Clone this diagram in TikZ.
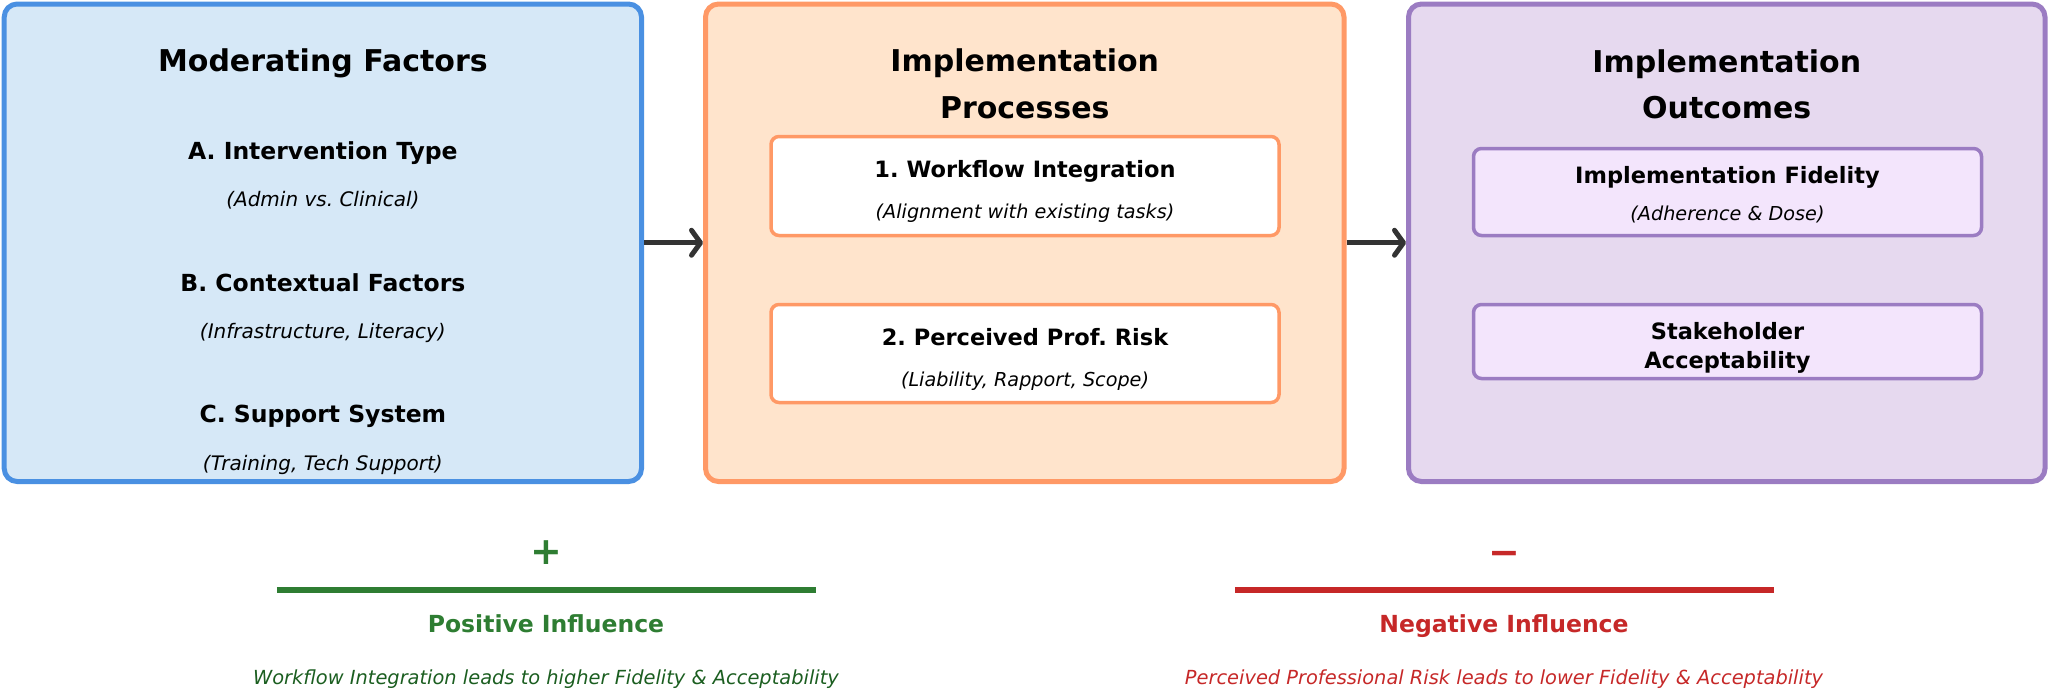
\documentclass[tikz,border=0pt]{standalone}
\usepackage{fontspec}
\setmainfont{DejaVu Sans}
\usetikzlibrary{arrows.meta}
\definecolor{blueE}{HTML}{4A90E2}
\definecolor{blueF}{HTML}{D6E8F7}
\definecolor{orangeE}{HTML}{FF9966}
\definecolor{orangeF}{HTML}{FFE4CC}
\definecolor{purpleE}{HTML}{9B7CC2}
\definecolor{purpleF}{HTML}{E6D9EF}
\definecolor{purpleI}{HTML}{F3E5FC}
\definecolor{arrowC}{HTML}{333333}
\definecolor{posC}{HTML}{2E7D32}
\definecolor{posT}{HTML}{1B5E20}
\definecolor{negC}{HTML}{C62828}
\definecolor{negT}{HTML}{C62828}
\frenchspacing
\begin{document}
\begin{tikzpicture}[x=1pt,y=-1pt,
  bigbox/.style={draw, line width=5pt, rounded corners=13pt, inner sep=0pt, minimum height=477.5pt},
  innerbox/.style={draw, line width=3.5pt, rounded corners=8pt, inner sep=0pt},
  title/.style={anchor=base, inner sep=0pt, align=center, font=\fontsize{30}{46.6}\selectfont\bfseries\frenchspacing},
  head/.style={anchor=base, inner sep=0pt, font=\fontsize{23.5}{28}\selectfont\bfseries\frenchspacing},
  ihead/.style={anchor=base, inner sep=0pt, align=center, font=\fontsize{22.5}{29}\selectfont\bfseries\frenchspacing},
  sub/.style={anchor=base, inner sep=0pt, font=\fontsize{20}{24}\selectfont\itshape\frenchspacing},
  isub/.style={anchor=base, inner sep=0pt, font=\fontsize{19.2}{24}\selectfont\itshape\frenchspacing},
  arr/.style={draw=arrowC, line width=5pt, -{Straight Barb[length=9pt,width=25pt,round]}},
  sign/.style={inner sep=0pt, font=\fontsize{38}{40}\selectfont\bfseries},
  legline/.style={line width=6pt},
  leghead/.style={anchor=base, inner sep=0pt, font=\fontsize{23.5}{28}\selectfont\bfseries},
  legsub/.style={anchor=base, inner sep=0pt, font=\fontsize{19.4}{24}\selectfont\itshape}
]
\useasboundingbox (0,0) rectangle (2050,689);

% big boxes
\node[bigbox, draw=blueE, fill=blueF, minimum width=637.3pt] (mod) at (322.85,242.75) {};
\node[bigbox, draw=orangeE, fill=orangeF, minimum width=638.5pt] (proc) at (1024.75,242.75) {};
\node[bigbox, draw=purpleE, fill=purpleF, minimum width=636.5pt] (out) at (1726.75,242.75) {};

% moderating factors
\node[title] (modT) at (322.85,71.7) {Moderating Factors};
\node[head] (a1) at (322.85,159.3) {A. Intervention Type};
\node[sub] (a2) at (322.85,206.7) {(Admin vs. Clinical)};
\node[head] (b1) at (322.85,291) {B. Contextual Factors};
\node[sub] (b2) at (322.85,338.7) {(Infrastructure, Literacy)};
\node[head] (c1) at (322.85,422.7) {C. Support System};
\node[sub] (c2) at (322.85,470) {(Training, Tech Support)};

% implementation processes
\node[title] (procT) at (1024.75,118.3) {Implementation\\Processes};
\node[innerbox, draw=orangeE, fill=white, minimum width=508pt, minimum height=99pt] (wf) at (1025,186) {};
\node[ihead] (wf1) at (1025,177.3) {1. Workflow Integration};
\node[isub] (wf2) at (1025,218.3) {(Alignment with existing tasks)};
\node[innerbox, draw=orangeE, fill=white, minimum width=508pt, minimum height=98pt] (pr) at (1025,353.5) {};
\node[ihead] (pr1) at (1025,345) {2. Perceived Prof. Risk};
\node[isub] (pr2) at (1025,386) {(Liability, Rapport, Scope)};

% implementation outcomes
\node[title] (outT) at (1726.75,118.8) {Implementation\\Outcomes};
\node[innerbox, draw=purpleE, fill=purpleI, minimum width=508pt, minimum height=87pt] (fid) at (1727.5,192) {};
\node[ihead] (fid1) at (1727.5,183.3) {Implementation Fidelity};
\node[isub] (fid2) at (1727.5,220.7) {(Adherence \& Dose)};
\node[innerbox, draw=purpleE, fill=purpleI, minimum width=508pt, minimum height=74pt] (acc) at (1727.5,341.5) {};
\node[ihead] (acc1) at (1727.5,368.3) {Stakeholder\\Acceptability};

% arrows
\draw[arr] (mod) -- (proc);
\draw[arr] (proc) -- (out);

% legend positive
\node[sign, text=posC] (plus) at (546,552.5) {+};
\coordinate (pl) at (276.8,590);
\coordinate (pr) at (816,590);
\draw[legline, draw=posC] (pl) -- (pr);
\node[leghead, text=posC] (posH) at (546,632.3) {Positive Influence};
\node[legsub, text=posT] (posS) at (546,684) {Workflow Integration leads to higher Fidelity \& Acceptability};

% legend negative
\node[sign, text=negC] (minus) at (1504,558.8) {−};
\coordinate (nl) at (1234.8,590);
\coordinate (nr) at (1773.7,590);
\draw[legline, draw=negC] (nl) -- (nr);
\node[leghead, text=negC] (negH) at (1504,632.3) {Negative Influence};
\node[legsub, text=negT] (negS) at (1504,684) {Perceived Professional Risk leads to lower Fidelity \& Acceptability};
\end{tikzpicture}
\end{document}
